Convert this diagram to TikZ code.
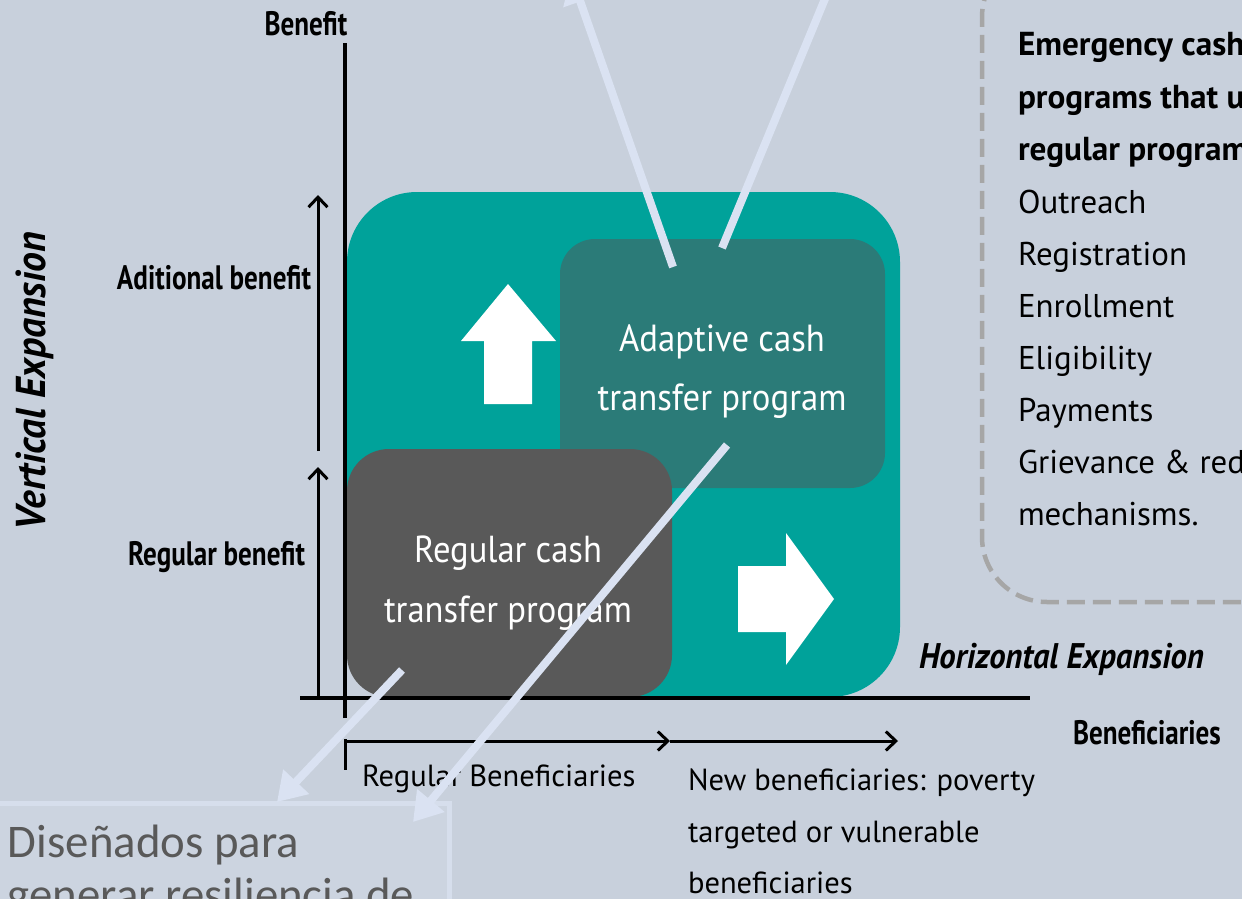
\documentclass[tikz,border=0pt]{standalone}
\usepackage{fontspec}
\usepackage{graphicx}
\setmainfont{PT Sans}
\newfontfamily\calib{Carlito}
\usetikzlibrary{arrows.meta}
\definecolor{bgc}{RGB}{200,208,220}
\definecolor{tealc}{RGB}{0,162,154}
\definecolor{dteal}{RGB}{43,123,120}
\definecolor{grayc}{RGB}{89,89,89}
\definecolor{linkc}{RGB}{218,226,242}
\definecolor{dashc}{RGB}{166,166,166}
\definecolor{boxedge}{RGB}{214,222,236}
\definecolor{boxfill}{RGB}{204,212,224}
\definecolor{spantext}{RGB}{89,89,89}
\newlength\fitlen
\newcommand\fitto[3]{\settowidth\fitlen{#1\fontsize{10pt}{12pt}\selectfont #2}\pgfmathsetmacro\fitsz{10*#3/\fitlen}#1\fontsize{\fitsz pt}{\fitsz pt}\selectfont}
% condensed fit: font switch, reference text, target width, x-scale, text
\newcommand\cfit[5]{\scalebox{#4}[1]{\fitto{#1}{#2}{#3/#4}#5}}
\tikzset{
  lbl/.style={inner sep=0pt, outer sep=0pt},
  panelbox/.style={inner sep=0pt, outer sep=0pt},
  axline/.style={line width=3.5pt, black},
  axarrow/.style={line width=3pt, black, -{Straight Barb[length=10pt,width=19pt]}},
  link/.style={draw=linkc, line width=8pt},
  linkarrow/.style={link, -{Triangle[length=28pt,width=34pt]}},
  boxtext/.style={lbl, anchor=base, text=white},
  rlbl/.style={lbl, anchor=base west},
}
\begin{document}
\begin{tikzpicture}[x=1pt,y=-1pt]
\useasboundingbox (0,0) rectangle (1242,899);
\clip (0,0) rectangle (1242,899);
\fill[bgc] (0,0) rectangle (1242,899);

% dashed panel on the right
\node[panelbox, draw=dashc, line width=4.5pt, dash pattern=on 18pt off 8pt, rounded corners=65pt,
      minimum width=400pt, minimum height=650pt, anchor=south west] (panel) at (982,602) {};

% bottom-left box
\node[panelbox, draw=boxedge, fill=boxfill, line width=5pt, minimum width=470pt, minimum height=160pt,
      anchor=north east] (dis) at (449,803) {};
\node[rlbl, text=spantext] (dis1) at (8,857) {\fitto{\calib}{Diseñados para}{291}Diseñados para};
\node[rlbl, text=spantext] (dis2) at (8,910) {\fitto{\calib}{Diseñados para}{291}generar resiliencia de};

% program boxes
\node[panelbox, fill=tealc, rounded corners=70pt, minimum width=553pt, minimum height=505pt] (outer) at (623.5,444.5) {};
\node[panelbox, fill=dteal, rounded corners=35pt, minimum width=325pt, minimum height=249pt] (adapt) at (722.5,363.5) {};
\node[panelbox, fill=grayc, rounded corners=42pt, minimum width=325pt, minimum height=248pt] (regular) at (509.5,573) {};

% white block arrows
\fill[white] (508,284) -- (556,341) -- (532,341) -- (532,404) -- (484,404) -- (484,341) -- (461,341) -- cycle;
\fill[white] (834,599) -- (786,665) -- (786,632) -- (738,632) -- (738,566) -- (786,566) -- (786,533) -- cycle;

% box texts
\node[boxtext] (ad1) at (722,351) {\cfit{}{transfer program}{249}{0.92}{Adaptive cash}};
\node[boxtext] (ad2) at (722,410) {\cfit{}{transfer program}{249}{0.92}{transfer program}};
\node[boxtext] (rg1) at (508,562) {\cfit{}{transfer program}{248}{0.92}{Regular cash}};
\node[boxtext] (rg2) at (508,622) {\cfit{}{transfer program}{248}{0.92}{transfer program}};

% axes
\coordinate (yb) at (345,718); \coordinate (yt) at (345,43);
\draw[axline] (yb) -- (yt);
\coordinate (xl) at (300,698); \coordinate (xr) at (1030,698);
\draw[axline, line width=4pt] (xl) -- (xr);

% vertical expansion arrows
\coordinate (va0) at (318,698); \coordinate (va1) at (318,467);
\coordinate (va2) at (318,451); \coordinate (va3) at (318,195);
\draw[axarrow] (va0) -- (va1);
\draw[axarrow] (va2) -- (va3);

% beneficiaries arrows
\coordinate (tk0) at (345,739); \coordinate (tk1) at (345,770);
\draw[line width=3pt] (tk0) -- (tk1);
\coordinate (ha0) at (345,741); \coordinate (ha1) at (670,741); \coordinate (ha2) at (898,741);
\draw[axarrow] (ha0) -- (ha1);
\draw[axarrow] (ha1) -- (ha2);

% axis labels
\node[lbl, anchor=base] (lben) at (306,36) {\cfit{\bfseries}{Aditional benefit}{194}{0.8}{Benefit}};
\node[lbl, anchor=base east] (ladd) at (311,289) {\cfit{\bfseries}{Aditional benefit}{194}{0.8}{Aditional benefit}};
\node[lbl, anchor=base east] (lreg) at (305,565) {\cfit{\bfseries}{Aditional benefit}{194}{0.8}{Regular benefit}};
\node[rlbl] (lbens) at (1073,744) {\cfit{\bfseries}{Aditional benefit}{194}{0.8}{Beneficiaries}};
\node[lbl, anchor=base, rotate=90] (lvert) at (45,381) {\cfit{\bfseries\itshape}{Vertical Expansion}{298}{0.95}{Vertical Expansion}};
\node[rlbl] (lhor) at (919,668) {\cfit{\bfseries\itshape}{Horizontal Expansion}{285}{0.92}{Horizontal Expansion}};

\node[rlbl] (lrb) at (362,786) {\fitto{}{New beneficiaries: poverty}{347}Regular Beneficiaries};
\node[rlbl] (lnb1) at (688,790) {\fitto{}{New beneficiaries: poverty}{347}New beneficiaries: poverty};
\node[rlbl] (lnb2) at (688,842) {\fitto{}{New beneficiaries: poverty}{347}targeted or vulnerable};
\node[rlbl] (lnb3) at (688,893) {\fitto{}{New beneficiaries: poverty}{347}beneficiaries};

% right panel text
\node[rlbl] (p1) at (1018,56) {\fitto{\bfseries}{Emergency}{155}Emergency cash};
\node[rlbl] (p2) at (1018,108) {\fitto{\bfseries}{Emergency}{155}programs that use};
\node[rlbl] (p3) at (1018,160) {\fitto{\bfseries}{Emergency}{155}regular programs};
\node[rlbl] (p4) at (1018,213) {\fitto{}{Registration}{169}Outreach};
\node[rlbl] (p5) at (1018,265) {\fitto{}{Registration}{169}Registration};
\node[rlbl] (p6) at (1018,317) {\fitto{}{Registration}{169}Enrollment};
\node[rlbl] (p7) at (1018,369) {\fitto{}{Registration}{169}Eligibility};
\node[rlbl] (p8) at (1018,421) {\fitto{}{Registration}{169}Payments};
\node[rlbl] (p9) at (1018,473) {\fitto{}{Registration}{169}Grievance \& redress};
\node[rlbl] (p10) at (1018,525) {\fitto{}{Registration}{169}mechanisms.};

% light connectors
\coordinate (l1s) at (673,267); \coordinate (l1e) at (571,-25);
\coordinate (l2s) at (722,248); \coordinate (l2e) at (841,-40);
\coordinate (l3s) at (727,445); \coordinate (l3e) at (413,822);
\coordinate (l4s) at (402,670); \coordinate (l4e) at (277,802);
\draw[linkarrow] (l1s) -- (l1e);
\draw[linkarrow] (l2s) -- (l2e);
\draw[linkarrow] (l3s) -- (l3e);
\draw[linkarrow] (l4s) -- (l4e);
\end{tikzpicture}
\end{document}
